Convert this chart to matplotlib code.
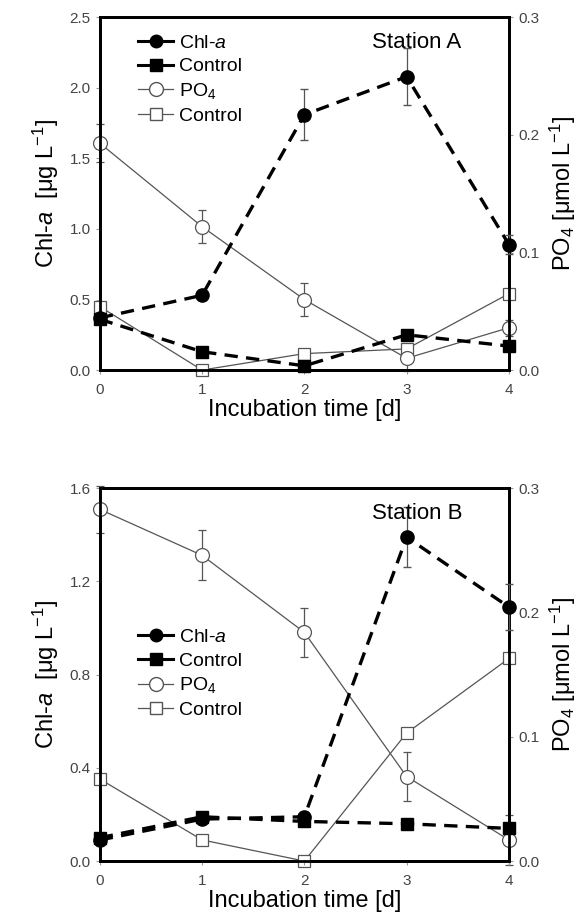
import matplotlib
matplotlib.use('Agg')
import matplotlib.pyplot as plt
from matplotlib.lines import Line2D

plt.rcParams['font.family'] = ['Liberation Sans', 'DejaVu Sans']
plt.rcParams['mathtext.fontset'] = 'custom'
plt.rcParams['mathtext.rm'] = 'Liberation Sans'
plt.rcParams['mathtext.it'] = 'Liberation Sans:italic'

days = [0, 1, 2, 3, 4]

# Station A (left axis: Chl-a, right axis: PO4)
a_chl = [0.37, 0.53, 1.81, 2.08, 0.89]
a_chl_err = [0.03, 0.03, 0.18, 0.20, 0.07]
a_chl_ctrl = [0.36, 0.13, 0.03, 0.25, 0.17]
a_po4 = [0.193, 0.122, 0.060, 0.010, 0.036]
a_po4_err = [0.016, 0.014, 0.014, 0.011, 0.007]
a_po4_ctrl = [0.054, 0.0, 0.014, 0.018, 0.065]

# Station B
b_chl = [0.09, 0.18, 0.19, 1.39, 1.09]
b_chl_err = [0.02, 0.02, 0.02, 0.13, 0.10]
b_chl_ctrl = [0.10, 0.19, 0.17, 0.16, 0.14]
b_po4 = [0.283, 0.246, 0.184, 0.068, 0.017]
b_po4_err = [0.019, 0.020, 0.020, 0.020, 0.020]
b_po4_ctrl = [0.066, 0.017, 0.0, 0.103, 0.163]

panels = [
    dict(chl=a_chl, chl_err=a_chl_err, chl_ctrl=a_chl_ctrl, po4=a_po4, po4_err=a_po4_err,
         po4_ctrl=a_po4_ctrl, ylim=2.5, yticks=[0, 0.5, 1.0, 1.5, 2.0, 2.5], station='Station A',
         rect=[0.170, 0.596, 0.697, 0.385], leg=(0.065, 0.985)),
    dict(chl=b_chl, chl_err=b_chl_err, chl_ctrl=b_chl_ctrl, po4=b_po4, po4_err=b_po4_err,
         po4_ctrl=b_po4_ctrl, ylim=1.6, yticks=[0, 0.4, 0.8, 1.2, 1.6], station='Station B',
         rect=[0.170, 0.060, 0.697, 0.407], leg=(0.065, 0.655)),
]

fig = plt.figure(figsize=(5.87, 9.16), dpi=100)
grey = '#555555'

for p in panels:
    ax = fig.add_axes(p['rect'])
    ax2 = ax.twinx()
    ax.set_zorder(ax2.get_zorder() + 1)
    ax.patch.set_visible(False)

    # PO4 on right axis
    ax2.errorbar(days, p['po4'], yerr=p['po4_err'], color=grey, lw=0.9, marker='o', ms=10,
                 mfc='white', mec=grey, mew=0.9, ecolor=grey, elinewidth=0.9, capsize=3,
                 clip_on=False, zorder=3)
    ax2.plot(days, p['po4_ctrl'], color=grey, lw=0.9, marker='s', ms=9, mfc='white',
             mec=grey, mew=0.9, clip_on=False, zorder=3)

    # Chl-a on left axis
    ax.errorbar(days, p['chl'], yerr=p['chl_err'], color='black', lw=2.4, ls=(0, (4, 2.5)),
                marker='o', ms=9.5, ecolor=grey, elinewidth=0.9, capsize=3, clip_on=False, zorder=4)
    ax.plot(days, p['chl_ctrl'], color='black', lw=2.4, ls=(0, (4, 2.5)), marker='s', ms=9,
            clip_on=False, zorder=4)

    ax.set_xlim(0, 4)
    ax.set_ylim(0, p['ylim'])
    ax.set_yticks(p['yticks'])
    ax.set_yticklabels([f'{v:.1f}' for v in p['yticks']])
    ax2.set_ylim(0, 0.3)
    ax2.set_yticks([0, 0.1, 0.2, 0.3])
    ax2.set_yticklabels(['0.0', '0.1', '0.2', '0.3'])
    ax.set_xticks(days)

    for a in (ax, ax2):
        for s in a.spines.values():
            s.set_linewidth(2.0)
        a.tick_params(labelsize=11, labelcolor='#444444', length=3, width=0.8, color='#999999')
    ax.tick_params(axis='x', pad=6)

    ax.set_xlabel('Incubation time [d]', fontsize=17, labelpad=2)
    ax.set_ylabel(r'Chl-$\mathit{a}$  [μg L$^{-1}$]', fontsize=17, labelpad=6)
    ax2.set_ylabel(r'PO$_4$ [μmol L$^{-1}$]', fontsize=17, labelpad=6)

    ax.text(0.775, 0.96, p['station'], transform=ax.transAxes, fontsize=16,
            ha='center', va='top', zorder=6)

    handles = [
        Line2D([], [], color='black', lw=2.2, marker='o', ms=9),
        Line2D([], [], color='black', lw=2.2, marker='s', ms=9),
        Line2D([], [], color=grey, lw=0.9, marker='o', ms=10, mfc='white', mec=grey),
        Line2D([], [], color=grey, lw=0.9, marker='s', ms=9, mfc='white', mec=grey),
    ]
    labels = [r'Chl-$\mathit{a}$', 'Control', r'PO$_4$', 'Control']
    ax.legend(handles, labels, loc='upper left', bbox_to_anchor=p['leg'], frameon=False,
              fontsize=14, handlelength=1.8, handletextpad=0.3, labelspacing=0.3,
              borderaxespad=0.2)

fig.savefig('out.png', dpi=100)
